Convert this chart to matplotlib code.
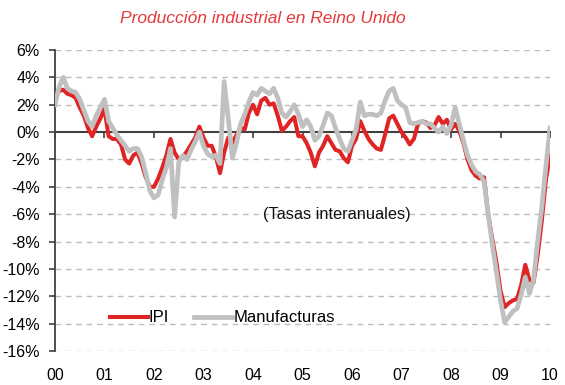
import numpy as np
import matplotlib
matplotlib.use("Agg")
import matplotlib.pyplot as plt

plt.rcParams["font.family"] = ["Liberation Sans", "DejaVu Sans"]

# year-on-year rates, monthly, Jan 2000 .. Jan 2010
ipi = [
    2.6, 3.0, 3.1, 2.8, 2.7, 2.5, 1.8, 1.2, 0.3, -0.3, 0.4, 1.0,
    1.7, -0.3, -0.5, -0.5, -0.9, -2.0, -2.3, -1.7, -1.5, -2.3, -3.3, -4.0,
    -4.0, -3.4, -2.6, -1.7, -0.5, -1.5, -2.0, -1.8, -1.4, -0.9, -0.4, 0.4,
    -0.4, -1.0, -1.0, -1.8, -3.0, -1.5, -0.4, -0.8, -0.2, 0.3, 0.2, 1.4,
    2.0, 1.3, 2.3, 2.5, 2.0, 2.1, 1.2, 0.1, 0.4, 0.8, 1.1, -0.3,
    -0.3, -0.8, -1.5, -2.5, -1.5, -1.0, -0.3, -0.8, -1.3, -1.4, -1.9, -2.2,
    -1.0, -0.5, 0.8, 0.1, -0.5, -0.9, -1.2, -1.3, -0.2, 1.0, 1.2, 0.6,
    0.0, -0.4, -0.9, -0.5, 0.6, 0.8, 0.7, 0.3, 0.5, 1.1, 0.6, 0.9,
    0.2, 0.6, 0.1, -0.8, -2.0, -2.8, -3.2, -3.4, -3.3, -6.0, -7.8, -9.5,
    -11.6, -12.8, -12.5, -12.3, -12.2, -11.2, -9.7, -10.8, -11.0, -9.0, -6.5, -3.5,
    -1.7,
]
manufacturas = [
    2.0, 3.3, 4.0, 3.2, 3.0, 2.9, 2.4, 1.6, 0.8, 0.4, 1.2, 1.8,
    2.4, 0.8, 0.3, -0.2, -0.6, -1.0, -1.4, -1.2, -1.2, -1.8, -3.0, -4.3,
    -4.8, -4.6, -3.5, -2.6, -1.2, -6.2, -2.2, -1.7, -2.0, -1.3, -0.7, 0.0,
    -1.0, -1.6, -1.8, -1.7, -2.3, 3.7, 1.0, -1.9, -0.8, 0.6, 1.3, 2.2,
    2.9, 2.7, 3.2, 3.0, 2.8, 3.2, 2.5, 1.4, 1.1, 1.5, 2.0, 1.3,
    0.4, 0.9, 0.4, -0.6, -0.3, 0.5, 1.4, 1.2, 0.3, -0.5, -1.2, -1.4,
    -0.6, 0.2, 2.2, 1.2, 1.3, 1.3, 1.2, 1.4, 2.3, 3.0, 3.2, 2.3,
    2.0, 1.8, 0.7, 0.6, 0.7, 0.8, 0.6, 0.6, 0.3, 0.0, 0.4, -0.1,
    0.5, 1.8, 0.6, -0.6, -1.7, -2.4, -2.9, -3.1, -3.6, -6.0, -8.2, -10.2,
    -12.3, -13.9, -13.5, -13.1, -12.9, -11.9, -10.6, -11.8, -10.8, -8.0, -5.5, -2.5,
    0.3,
]
years = ["00", "01", "02", "03", "04", "05", "06", "07", "08", "09", "10"]
yticks = [6, 4, 2, 0, -2, -4, -6, -8, -10, -12, -14, -16]

t = np.arange(len(ipi)) / 12.0
RED = "#E02424"
GREY = "#C0C0C0"
DARK = "#404040"

fig = plt.figure(figsize=(5.65, 3.85), dpi=100)
ax = fig.add_axes([0.0973, 0.0883, 0.8762, 0.7818])

for v in yticks:
    if v != 0:
        ax.axhline(v, color="#BDBDBD", lw=1.0, ls=(0, (4, 3.5)), zorder=1)

ax.plot(t, ipi, color=RED, lw=2.9, label="IPI", zorder=3)
ax.plot(t, manufacturas, color=GREY, lw=3.4, label="Manufacturas", zorder=4)

ax.set_xlim(0, 10)
ax.set_ylim(-16, 6)
ax.set_yticks(yticks)
ax.set_yticklabels([f"{v}%" for v in yticks])

# category axis crosses at zero, labels sit below the plot
ax.spines["bottom"].set_position(("data", 0))
ax.spines["bottom"].set_color(DARK)
ax.spines["bottom"].set_linewidth(1.5)
ax.spines["bottom"].set_zorder(2)
ax.spines["left"].set_color(DARK)
ax.spines["left"].set_linewidth(1.3)
for s in ("top", "right"):
    ax.spines[s].set_visible(False)
ax.set_xticks(range(len(years)))
ax.tick_params(axis="x", direction="out", length=4.5, width=1.2,
               color=DARK, labelbottom=False)
ax.tick_params(axis="y", direction="out", length=4, width=1.2,
               color=DARK, labelsize=11.5, pad=7)

sec = ax.secondary_xaxis("bottom")
sec.set_xticks(range(len(years)))
sec.set_xticklabels(years)
sec.spines["bottom"].set_visible(False)
sec.tick_params(length=0, labelsize=11.5, pad=12)

ax.text(5.7, -6, "(Tasas interanuales)", fontsize=11.8, ha="center",
        va="center", color="#111111")

ax.legend(loc="center left", bbox_to_anchor=(0.08, 0.11), ncol=2,
          frameon=False, fontsize=12, handlelength=2.3, handletextpad=0.05,
          columnspacing=1.5)

fig.text(0.466, 0.953, "Producción industrial en Reino Unido",
         color="#E8383A", fontsize=12.5, style="italic", ha="center",
         va="center")

fig.savefig("out.png", dpi=100)
